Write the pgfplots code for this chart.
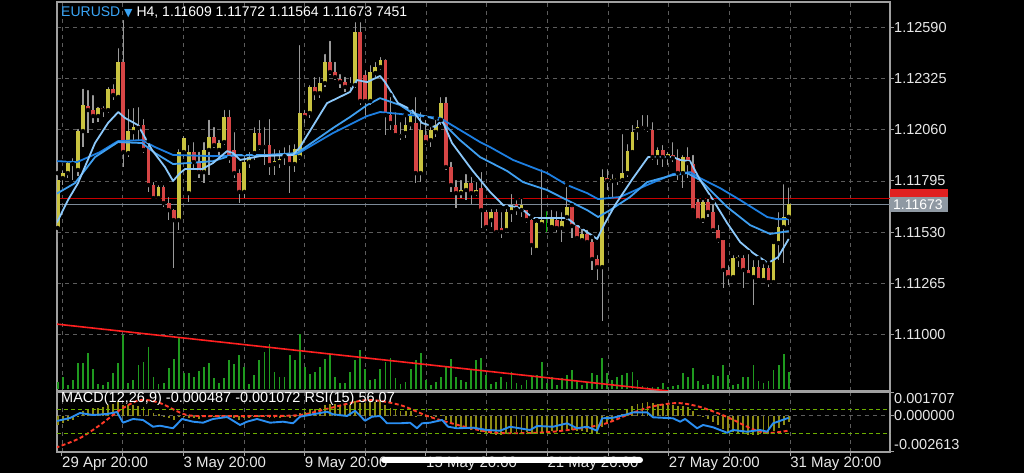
\documentclass[border=0pt]{standalone}
\usepackage{pgfplots}
\pgfplotsset{compat=1.18}
\usepackage{pgfplotstable}
\usepackage{fontspec}
\setmainfont{Liberation Sans}
\newfontfamily\dejavu{DejaVu Sans}
\definecolor{framec}{HTML}{A0A0A0}
\definecolor{gridc}{HTML}{5C5C5C}
\definecolor{labelc}{HTML}{E8E8E8}
\definecolor{upc}{HTML}{C9C340}
\definecolor{downc}{HTML}{D64545}
\definecolor{wickc}{HTML}{9A9A9A}
\definecolor{fastc}{HTML}{8CC8FA}
\definecolor{medc}{HTML}{3F9FF0}
\definecolor{slowc}{HTML}{1D7FE2}
\definecolor{volc}{HTML}{1F9A1F}
\definecolor{trendc}{HTML}{FF2020}
\definecolor{redline}{HTML}{C80000}
\definecolor{askc}{HTML}{7D8A98}
\definecolor{macdc}{HTML}{8E8C14}
\definecolor{sigc}{HTML}{FF3A28}
\definecolor{rsic}{HTML}{2B8FF2}
\definecolor{greenc}{HTML}{6CAE00}
\definecolor{eurblue}{HTML}{3AA4F4}
\definecolor{pricebox}{HTML}{8F99A3}
\definecolor{askred}{HTML}{E02020}

\pgfplotstableread{
k o h l c
-1 1.11551 1.11836 1.11478 1.11800
0 1.11810 1.11862 1.11774 1.11836
1 1.11836 1.11909 1.11810 1.11888
2 1.11883 1.11924 1.11800 1.11893
3 1.11852 1.12075 1.11821 1.12054
4 1.12054 1.12283 1.11971 1.12189
7 1.12132 1.12189 1.12101 1.12174
9 1.12163 1.12293 1.12148 1.12272
11 1.12231 1.12495 1.12225 1.12412
13 1.11940 1.12179 1.11919 1.12054
14 1.12049 1.12184 1.12007 1.12075
19 1.11706 1.11784 1.11696 1.11764
23 1.11592 1.11971 1.11540 1.11945
24 1.11945 1.12039 1.11919 1.12018
25 1.11732 1.11992 1.11686 1.11945
28 1.11841 1.12007 1.11784 1.11956
29 1.11956 1.12122 1.11826 1.12023
31 1.11956 1.12018 1.11930 1.11992
32 1.11997 1.12174 1.11981 1.12127
36 1.11738 1.11940 1.11706 1.11893
37 1.11893 1.11956 1.11862 1.11919
38 1.11940 1.12085 1.11904 1.12044
42 1.11883 1.11971 1.11826 1.11898
43 1.11893 1.11966 1.11862 1.11909
44 1.11924 1.11981 1.11878 1.11940
46 1.11883 1.11997 1.11841 1.11961
47 1.11919 1.12511 1.11904 1.12148
49 1.12148 1.12303 1.12122 1.12283
51 1.12251 1.12345 1.12225 1.12303
52 1.12303 1.12464 1.12283 1.12412
57 1.12293 1.12345 1.12267 1.12298
58 1.12293 1.12630 1.12277 1.12568
61 1.12210 1.12407 1.12189 1.12360
62 1.12355 1.12423 1.12334 1.12386
63 1.12386 1.12449 1.12371 1.12423
67 1.12028 1.12111 1.12007 1.12039
68 1.12044 1.12137 1.12018 1.12085
69 1.12090 1.12174 1.12059 1.12137
71 1.11836 1.12163 1.11789 1.12059
73 1.12007 1.12085 1.11971 1.12059
74 1.12049 1.12122 1.12023 1.12085
75 1.12111 1.12241 1.12085 1.12199
79 1.11732 1.11810 1.11706 1.11748
80 1.11748 1.11841 1.11696 1.11784
82 1.11732 1.11800 1.11717 1.11748
85 1.11592 1.11660 1.11556 1.11634
88 1.11540 1.11660 1.11530 1.11634
89 1.11634 1.11738 1.11582 1.11670
91 1.11644 1.11712 1.11608 1.11670
94 1.11437 1.11592 1.11426 1.11577
95 1.11571 1.11867 1.11566 1.11592
97 1.11556 1.11655 1.11551 1.11603
99 1.11551 1.11644 1.11478 1.11587
100 1.11608 1.11774 1.11592 1.11660
103 1.11488 1.11556 1.11478 1.11520
107 1.11348 1.11867 1.11068 1.11815
109 1.11795 1.11841 1.11712 1.11805
110 1.11800 1.11815 1.11774 1.11810
111 1.11800 1.12049 1.11784 1.11836
112 1.11836 1.11997 1.11815 1.11950
113 1.11945 1.12096 1.11940 1.12049
114 1.12059 1.12122 1.12007 1.12075
116 1.12065 1.12148 1.12049 1.12070
118 1.11919 1.11981 1.11878 1.11956
120 1.11919 1.11956 1.11878 1.11935
123 1.11836 1.11940 1.11758 1.11919
127 1.11592 1.11706 1.11577 1.11686
133 1.11296 1.11421 1.11291 1.11395
134 1.11390 1.11421 1.11348 1.11400
137 1.11296 1.11395 1.11151 1.11348
139 1.11281 1.11374 1.11270 1.11343
141 1.11270 1.11478 1.11265 1.11473
142 1.11473 1.11644 1.11385 1.11556
143 1.11556 1.11789 1.11369 1.11608
144 1.11609 1.11772 1.11564 1.11673
}\upcandles

\pgfplotstableread{
k o h l c
5 1.12184 1.12277 1.12044 1.12163
6 1.12163 1.12251 1.12096 1.12132
8 1.12174 1.12194 1.12127 1.12163
10 1.12272 1.12308 1.12215 1.12241
12 1.12412 1.12641 1.11867 1.11945
15 1.12085 1.12189 1.12007 1.12070
16 1.12085 1.12127 1.11940 1.11956
17 1.11966 1.12002 1.11738 1.11774
18 1.11774 1.11800 1.11696 1.11706
20 1.11764 1.11784 1.11660 1.11680
21 1.11680 1.11722 1.11592 1.11644
22 1.11644 1.11660 1.11343 1.11592
26 1.11945 1.12007 1.11862 1.11893
27 1.11893 1.11956 1.11810 1.11841
30 1.12023 1.12085 1.11966 1.11981
33 1.12127 1.12174 1.11888 1.11914
34 1.11956 1.12059 1.11810 1.11836
35 1.11836 1.11867 1.11680 1.11738
39 1.12044 1.12122 1.11956 1.11971
40 1.11981 1.12085 1.11878 1.11971
41 1.11981 1.12127 1.11826 1.11878
45 1.11940 1.11992 1.11732 1.11883
48 1.12148 1.12174 1.12096 1.12127
50 1.12283 1.12345 1.12215 1.12251
53 1.12412 1.12532 1.12345 1.12360
54 1.12360 1.12423 1.12319 1.12334
55 1.12324 1.12360 1.12277 1.12308
56 1.12308 1.12345 1.12257 1.12283
59 1.12568 1.12630 1.12189 1.12210
60 1.12345 1.12381 1.12137 1.12210
64 1.12423 1.12438 1.12033 1.12137
65 1.12137 1.12241 1.12059 1.12096
66 1.12085 1.12163 1.12023 1.12033
70 1.12096 1.12241 1.11784 1.11836
72 1.12033 1.12122 1.11981 1.11997
76 1.12199 1.12241 1.11852 1.11867
77 1.11867 1.11904 1.11738 1.11774
78 1.11764 1.11810 1.11655 1.11732
81 1.11784 1.11826 1.11675 1.11732
83 1.11758 1.11852 1.11551 1.11644
84 1.11634 1.11655 1.11540 1.11556
86 1.11634 1.11660 1.11525 1.11530
87 1.11551 1.11644 1.11499 1.11530
90 1.11675 1.11706 1.11618 1.11649
92 1.11644 1.11655 1.11577 1.11592
93 1.11592 1.11608 1.11411 1.11462
98 1.11592 1.11649 1.11530 1.11551
101 1.11660 1.11670 1.11499 1.11561
102 1.11561 1.11577 1.11488 1.11499
104 1.11520 1.11551 1.11473 1.11478
105 1.11478 1.11504 1.11333 1.11390
106 1.11390 1.11421 1.11281 1.11348
108 1.11810 1.11867 1.11748 1.11795
115 1.12080 1.12148 1.12059 1.12070
117 1.12059 1.12111 1.11904 1.11919
119 1.11956 1.11992 1.11867 1.11919
121 1.11930 1.12007 1.11893 1.11914
122 1.11914 1.11971 1.11800 1.11836
124 1.11919 1.11981 1.11810 1.11888
125 1.11883 1.11940 1.11634 1.11644
126 1.11686 1.11712 1.11582 1.11592
128 1.11686 1.11712 1.11608 1.11634
129 1.11634 1.11686 1.11525 1.11540
130 1.11540 1.11577 1.11473 1.11488
131 1.11488 1.11499 1.11239 1.11333
132 1.11333 1.11369 1.11255 1.11296
135 1.11395 1.11421 1.11239 1.11333
136 1.11333 1.11426 1.11296 1.11307
138 1.11348 1.11395 1.11270 1.11281
140 1.11343 1.11369 1.11245 1.11270
}\downcandles

\pgfplotstableread{
k v
-1 3000
0 5400
1 1900
2 4000
3 11300
4 11300
5 15600
6 8500
7 2300
8 1900
9 3300
10 7100
11 11300
12 23000
13 2900
14 4000
15 10200
16 11800
17 18100
18 5400
19 2300
20 2900
21 9000
22 12800
23 22100
24 7100
25 7100
26 5400
27 8000
28 9600
29 11300
30 4700
31 2900
32 4700
33 12500
34 10800
35 14600
36 9600
37 2300
38 6100
39 12500
40 16000
41 19200
42 7500
43 5200
44 5400
45 14600
46 12500
47 23500
48 9600
49 6600
50 7500
51 9600
52 12800
53 15000
54 5400
55 2900
56 2900
57 7500
58 12500
59 16700
60 8500
61 4000
62 4300
63 8500
64 11800
65 13200
66 4700
67 2300
68 3300
69 8500
70 12500
71 15600
72 4000
73 1900
74 3300
75 5400
76 9600
77 12800
78 5400
79 4000
80 3300
81 8500
82 12500
83 13200
84 6100
85 2300
86 3300
87 5400
88 3300
89 7500
90 2600
91 1900
92 4000
93 5400
94 6100
95 11800
96 2600
97 5400
98 1900
99 4700
100 6100
101 8200
102 3300
103 1900
104 2600
105 6900
106 6100
107 13200
108 6900
109 4000
110 5400
111 6100
112 7100
113 7500
114 4000
115 1500
116 1200
117 1200
118 1200
119 2600
120 900
121 1500
122 1900
123 6900
124 5400
125 9000
126 3600
127 1900
128 2300
129 6100
130 5700
131 10400
132 6100
133 2100
134 2300
135 5200
136 5400
137 10400
138 3600
139 2600
140 3600
141 8200
142 10400
143 15000
144 7451
}\volumes

\pgfplotstableread{
k m
-1 -0.00067
0 -0.00053
1 -0.00038
2 -0.00031
3 -0.00002
4 0.00034
5 0.00048
6 0.00055
7 0.00055
8 0.00063
9 0.00077
10 0.00084
11 0.00099
12 0.00077
13 0.00077
14 0.00077
15 0.00070
16 0.00063
17 0.00041
18 0.00019
19 0.00012
20 -0.00002
21 -0.00017
22 -0.00031
23 -0.00009
24 -0.00002
25 -0.00017
26 -0.00017
27 -0.00024
28 -0.00009
29 -0.00002
30 -0.00009
31 -0.00009
32 0.00005
33 -0.00002
34 -0.00017
35 -0.00031
36 -0.00017
37 -0.00017
38 -0.00002
39 -0.00002
40 -0.00009
41 -0.00017
42 -0.00017
43 -0.00017
44 -0.00009
45 -0.00017
46 -0.00009
47 0.00019
48 0.00027
49 0.00041
50 0.00048
51 0.00055
52 0.00077
53 0.00084
54 0.00084
55 0.00077
56 0.00077
57 0.00077
58 0.00106
59 0.00091
60 0.00091
61 0.00099
62 0.00099
63 0.00106
64 0.00077
65 0.00055
66 0.00041
67 0.00034
68 0.00034
69 0.00034
70 -0.00002
71 0.00005
72 -0.00009
73 -0.00009
74 -0.00009
75 0.00005
76 -0.00031
77 -0.00060
78 -0.00081
79 -0.00089
80 -0.00096
81 -0.00103
82 -0.00103
83 -0.00117
84 -0.00132
85 -0.00132
86 -0.00139
87 -0.00139
88 -0.00132
89 -0.00125
90 -0.00117
91 -0.00117
92 -0.00117
93 -0.00132
94 -0.00132
95 -0.00117
96 -0.00117
97 -0.00110
98 -0.00110
99 -0.00110
100 -0.00096
101 -0.00103
102 -0.00110
103 -0.00110
104 -0.00117
105 -0.00125
106 -0.00132
107 -0.00081
108 -0.00060
109 -0.00038
110 -0.00017
111 0.00012
112 0.00041
113 0.00070
114 0.00084
115 0.00091
116 0.00099
117 0.00091
118 0.00084
119 0.00084
120 0.00077
121 0.00077
122 0.00070
123 0.00070
124 0.00063
125 0.00034
126 0.00005
127 -0.00009
128 -0.00024
129 -0.00045
130 -0.00067
131 -0.00096
132 -0.00117
133 -0.00117
134 -0.00125
135 -0.00132
136 -0.00139
137 -0.00139
138 -0.00139
139 -0.00132
140 -0.00132
141 -0.00110
142 -0.00089
143 -0.00067
144 -0.000487
}\macdmain

\pgfplotsset{
  panel/.style={scale only axis, anchor=south west, width=833pt,
    xmin=-1.15, xmax=164.1, clip=true},
  gridticks/.style={xtick={-0.16,11.88,23.91,35.95,47.98,60.02,72.05,84.09,96.13,108.16,120.2,132.23,144.27,156.3}},
}

\begin{document}
\begin{tikzpicture}
\fill[black] (0pt,0pt) rectangle (1024pt,473pt);
\useasboundingbox (0pt,0pt) rectangle (1024pt,473pt);

% ---------------- price panel ----------------
\begin{axis}[panel, gridticks, at={(57pt,82pt)}, height=389pt,
  ymin=1.10705, ymax=1.12724,
  axis line style={framec, line width=1.2pt},
  xticklabel=\empty, xtick style={draw=none},
  ytick={1.11000,1.11265,1.11530,1.11795,1.12060,1.12325,1.12590},
  yticklabels={\mbox{1.11000},\mbox{1.11265},\mbox{1.11530},\mbox{1.11795},\mbox{1.12060},\mbox{1.12325},\mbox{1.12590}},
  ytick pos=right, yticklabel pos=right, scaled y ticks=false,
  tick align=outside, major tick length=4pt,
  ytick style={framec, line width=1pt},
  yticklabel style={font=\fontsize{14.5}{16}\selectfont, text=labelc, inner sep=0pt, anchor=west},
  grid=major, grid style={gridc, dash pattern=on 4pt off 4pt, line width=0.9pt},
]
\addplot[redline, line width=1.2pt, forget plot] coordinates {(-1.15,1.11705) (164.1,1.11705)};
\addplot[askc, line width=1pt, forget plot] coordinates {(-1.15,1.11673) (164.1,1.11673)};
% wicks
\addplot[only marks, mark=none, forget plot, error bars/.cd, y dir=minus, y explicit, error mark=none,
  error bar style={wickc, line width=1.2pt}]
  table[x=k, y=h, y error expr=\thisrow{h}-\thisrow{l}] {\upcandles};
\addplot[only marks, mark=none, forget plot, error bars/.cd, y dir=minus, y explicit, error mark=none,
  error bar style={wickc, line width=1.2pt}]
  table[x=k, y=h, y error expr=\thisrow{h}-\thisrow{l}] {\downcandles};
\addplot[only marks, mark=none, forget plot, error bars/.cd, y dir=minus, y explicit, error mark=none,
  error bar style={green!70!black, line width=1.2pt}]
  table[x=k, y=h, y error expr=\thisrow{h}-\thisrow{l}] {
k h l
96 1.11649 1.11530
};
% bodies
\addplot[only marks, mark=none, forget plot, error bars/.cd, y dir=plus, y explicit, error mark=none,
  error bar style={upc, line width=3.7pt}]
  table[x=k, y=o, y error expr=\thisrow{c}-\thisrow{o}] {\upcandles};
\addplot[only marks, mark=none, forget plot, error bars/.cd, y dir=plus, y explicit, error mark=none,
  error bar style={downc, line width=3.7pt}]
  table[x=k, y=c, y error expr=\thisrow{o}-\thisrow{c}] {\downcandles};
% moving averages
\addplot[slowc, line width=1.8pt, line join=round] coordinates {
(-1.15,1.11898) (2.82,1.11893) (7.38,1.11945) (10.95,1.12002) (15.71,1.12007) (18.29,1.11971)
(21.87,1.11930) (29.8,1.11924) (40.52,1.11930) (46.47,1.11935) (53.61,1.12044) (60.36,1.12132)
(62.94,1.12153) (66.9,1.12143) (68.88,1.12137) (74.84,1.12122) (82.78,1.11997) (84.76,1.11971)
(89.33,1.11904) (96.07,1.11836) (100.04,1.11774) (104.01,1.11732) (106.2,1.11701) (110.56,1.11712)
(115.91,1.11774) (121.07,1.11831) (124.44,1.11841) (126.43,1.11810) (130.4,1.11758) (134.37,1.11696)
(139.73,1.11608) (141.71,1.11597) (144,1.11597)};
\addplot[medc, line width=1.8pt, line join=round] coordinates {
(-1.15,1.11730) (2.42,1.11784) (6.39,1.11919) (10.95,1.11997) (15.71,1.11992) (18.29,1.11940)
(21.87,1.11883) (24.84,1.11888) (29.8,1.11898) (33.77,1.11930) (40.52,1.11930) (46.47,1.11940)
(53.61,1.12070) (56.98,1.12127) (60.36,1.12189) (62.94,1.12225) (66.9,1.12189) (69.29,1.12148)
(74.84,1.12111) (78.81,1.12007) (82.78,1.11919) (88.14,1.11847) (91.31,1.11789) (96.07,1.11748)
(100.04,1.11696) (104.01,1.11644) (106.2,1.11608) (108.57,1.11644) (112.54,1.11712) (115.91,1.11789)
(121.07,1.11826) (123.85,1.11836) (126.43,1.11800) (131.79,1.11660) (136.35,1.11566) (140.32,1.11520)
(144,1.11535)};
\addplot[fastc, line width=1.8pt, line join=round] coordinates {
(-1.15,1.11580) (1.03,1.11696) (3.02,1.11784) (6.39,1.11992) (8.97,1.12096) (11.01,1.12153)
(12.34,1.12122) (14.92,1.12085) (17.70,1.11956) (20.28,1.11867) (21.87,1.11795) (23.25,1.11836)
(24.25,1.11857) (27.62,1.11857) (29.8,1.11888) (32.58,1.11950) (33.77,1.11940) (35.16,1.11904)
(39.13,1.11924) (45.67,1.11930) (47.06,1.11971) (52.42,1.12199) (56.98,1.12257) (58.37,1.12319)
(60.36,1.12308) (62.94,1.12340) (63.93,1.12308) (66.51,1.12199) (69.29,1.12163) (71.27,1.12096)
(73.85,1.12075) (75.24,1.12111) (77.22,1.11992) (81.19,1.11852) (84.76,1.11738) (87.34,1.11670)
(90.12,1.11660) (91.31,1.11644) (93.29,1.11603) (100.04,1.11603) (101.03,1.11582) (104.01,1.11530)
(106.0,1.11494) (107.58,1.11577) (109.56,1.11670) (113.13,1.11810) (116.11,1.11919) (121.07,1.11919)
(122.46,1.11904) (124.44,1.11898) (126.43,1.11800) (129.01,1.11696) (131.79,1.11577) (134.37,1.11478)
(136.95,1.11421) (139.92,1.11369) (141.9,1.11400) (144,1.11494)};
\end{axis}

% ---------------- volume (same panel) ----------------
\begin{axis}[panel, at={(57pt,82pt)}, height=389pt, ymin=-635, ymax=163900, hide axis]
\addplot[ycomb, volc, line width=1.8pt, mark=none] table[x=k, y=v] {\volumes};
\end{axis}

% ---------------- trend line (price units) ----------------
\begin{axis}[panel, at={(57pt,82pt)}, height=389pt, ymin=1.10705, ymax=1.12724, hide axis]
\addplot[trendc, line width=1.6pt] coordinates {(-1.15,1.11052) (120.1,1.10705)};
\end{axis}

% ---------------- MACD panel ----------------
\begin{axis}[panel, gridticks, at={(57pt,21pt)}, height=60pt,
  ymin=-0.002613, ymax=0.001707,
  axis line style={framec, line width=1.2pt},
  xticklabels={\mbox{29 Apr 20:00},{},\mbox{3 May 20:00},{},\mbox{9 May 20:00},{},\mbox{15 May 20:00},{},\mbox{21 May 20:00},{},\mbox{27 May 20:00},{},\mbox{31 May 20:00},{}},
  xtick pos=left, ytick pos=right, yticklabel pos=right,
  tick align=outside, major tick length=4pt,
  tick style={framec, line width=1pt},
  xticklabel style={font=\fontsize{15}{17}\selectfont, text=labelc, inner sep=0pt, anchor=north west, yshift=-1pt},
  ytick={-0.002613,0,0.001707},
  yticklabels={\raisebox{2pt}[0pt][0pt]{\mbox{-0.002613}},\mbox{0.000000},\raisebox{-11pt}[0pt][0pt]{\mbox{0.001707}}},
  scaled y ticks=false,
  yticklabel style={font=\fontsize{14.5}{16}\selectfont, text=labelc, inner sep=0pt, anchor=west},
  grid=major, grid style={gridc, dash pattern=on 4pt off 4pt, line width=0.9pt},
]
\addplot[ycomb, macdc, line width=1.9pt, mark=none] table[x=k, y=m] {\macdmain};
\addplot[sigc, line width=1.9pt, dash pattern=on 4pt off 2.5pt, smooth] coordinates {
(-1.15,-0.00228) (-0.95,-0.00225) (3.41,-0.00161) (7.38,-0.00067) (11.35,0.00041) (15.32,0.00113)
(19.29,0.00091) (24.64,0.00005) (31.19,-0.00002) (39.13,-0.00002) (47.06,0.00005) (53.02,0.00055)
(60.36,0.00113) (66.9,0.00077) (72.86,-0.00009) (80.79,-0.00089) (86.75,-0.00125) (96.67,-0.00117)
(106.59,-0.00067) (111.94,0.00005) (116.51,0.00063) (121.87,0.00091) (126.43,0.00063) (131.79,-0.00009)
(136.35,-0.00089) (139.72,-0.00125) (144,-0.001072)};
\end{axis}

% ---------------- RSI overlay ----------------
\begin{axis}[panel, at={(57pt,21pt)}, height=60pt, ymin=-0.83, ymax=99.17, hide axis]
\addplot[greenc, line width=1.2pt, dash pattern=on 4pt off 3pt] coordinates {(-1.15,70) (164.1,70)};
\addplot[greenc, line width=1.2pt, dash pattern=on 4pt off 3pt] coordinates {(-1.15,30) (164.1,30)};
\addplot[rsic, line width=1.9pt, line join=round] coordinates {
(-1.15,51.0) (-0.95,51.3) (1.43,55.8) (3.41,64.2) (5.99,60.8) (8.77,62.5) (10.75,65.8) (11.94,48.0)
(13.93,54.2) (15.91,52.5) (17.9,41.3) (19.29,43.0) (21.87,38.7) (23.65,54.2) (25.83,49.7) (27.82,48.0)
(29.8,54.2) (32.58,57.5) (35.16,44.2) (36.55,49.7) (38.53,54.2) (41.11,48.0) (43.69,49.7) (45.67,47.0)
(47.06,58.0) (49.64,62.0) (52.42,66.3) (53.61,62.0) (56.39,59.2) (57.98,68.0) (59.96,51.3) (61.35,58.0)
(62.94,59.2) (64.33,47.0) (66.9,47.0) (68.88,48.0) (70.27,38.7) (71.27,47.0) (72.86,48.0) (75.24,52.5)
(76.43,41.3) (78.21,38.7) (81.39,39.7) (84.17,35.8) (86.75,34.7) (88.73,41.3) (92.7,35.8) (94.09,42.5)
(97.26,41.3) (100.04,47.0) (102.02,38.7) (104.01,41.3) (106.0,34.7) (106.99,55.3) (109.17,56.3)
(111.94,62.0) (113.13,65.3) (115.91,65.3) (117.1,57.0) (121.07,55.3) (122.46,49.7) (123.45,54.2)
(125.83,38.7) (127.02,44.2) (129.01,40.3) (131.79,31.3) (132.98,35.8) (135.75,33.0) (138.33,35.8)
(139.72,33.0) (140.91,47.0) (143.69,55.3) (144,56.07)};
\end{axis}

% ---------------- texts and labels ----------------
\node[anchor=west, inner sep=0pt, font=\fontsize{14}{16}\selectfont, text=white] at (61pt,460pt)
  {\textcolor{eurblue}{EURUSD} \textcolor{eurblue}{{\dejavu\fontsize{11}{13}\selectfont ▼}} H4, 1.11609 1.11772 1.11564 1.11673 7451};
\node[anchor=west, inner sep=0pt, font=\fontsize{14.5}{16}\selectfont, text=white] at (61pt,74pt)
  {MACD(12,26,9) -0.000487 -0.001072 RSI(15) 56.07};
\fill[askred] (890pt,275pt) rectangle (948pt,284pt);
\fill[pricebox] (890pt,261pt) rectangle (948pt,276pt);
\node[anchor=west, inner sep=0pt, font=\fontsize{14}{16}\selectfont, text=white] at (893pt,268.5pt) {1.11673};
\fill[white, rounded corners=3pt] (381pt,10pt) rectangle (643pt,16pt);
\end{tikzpicture}
\end{document}
